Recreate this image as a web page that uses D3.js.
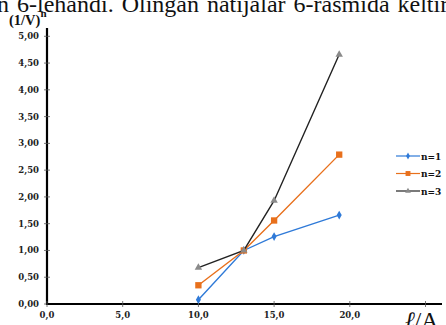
<!doctype html>
<html>
<head>
    <script src="https://d3js.org/d3.v7.min.js"></script>
    <style>
        body { margin: 0; background: #fff; }
        svg { display: block; }
        .tick-label { font: bold 8.5px "DejaVu Serif", serif; fill: #222; }
        .legend text { font: bold 9px "DejaVu Serif", serif; fill: #111; }
    </style>
</head>
<body>
<script>
    // data
    let xValues = [10, 13, 15, 19.3];
    let n1 = [0.08, 1.0, 1.26, 1.66];
    let n2 = [0.35, 1.0, 1.56, 2.79];
    let n3 = [0.68, 1.0, 1.93, 4.66];
    let seriesNames = ["n=1", "n=2", "n=3"];
    let yTicks = [0, 0.5, 1, 1.5, 2, 2.5, 3, 3.5, 4, 4.5, 5];
    let xTicks = [0, 5, 10, 15, 20, 25];

    let width = 446, height = 325;

    let x = d3.scaleLinear().domain([0, 25]).range([47, 425.5]);
    let y = d3.scaleLinear().domain([0, 5]).range([304, 36.3]);

    let svg = d3.select("body").append("svg")
                .attr("width", width)
                .attr("height", height);

    // cropped line of text from the surrounding document
    svg.append("text")
       .attr("x", -3).attr("y", 12)
       .style("font", "24px 'Liberation Serif', serif")
       .style("word-spacing", "2px")
       .attr("fill", "#111")
       .text("n 6-lehandi. Olingan natijalar 6-rasmida keltirilgan");

    // y axis
    svg.append("line")
       .attr("x1", x(0)).attr("x2", x(0))
       .attr("y1", 28).attr("y2", y(0) + 1)
       .attr("stroke", "#000").attr("stroke-width", 2.2);

    svg.selectAll(".ytick").data(yTicks).enter().append("line")
       .attr("x1", x(0) - 3).attr("x2", x(0) + 3)
       .attr("y1", d => y(d)).attr("y2", d => y(d))
       .attr("stroke", "#555").attr("stroke-width", 0.8);

    svg.selectAll(".ylab").data(yTicks).enter().append("text")
       .attr("class", "tick-label")
       .attr("x", 39).attr("y", d => y(d) + 3)
       .attr("text-anchor", "end")
       .text(d => d3.format(".2f")(d).replace(".", ","));

    // x axis
    svg.append("line")
       .attr("x1", x(0) - 1).attr("x2", 442)
       .attr("y1", y(0)).attr("y2", y(0))
       .attr("stroke", "#000").attr("stroke-width", 2.2);

    svg.selectAll(".xtick").data(xTicks).enter().append("line")
       .attr("x1", d => x(d)).attr("x2", d => x(d))
       .attr("y1", y(0) - 3).attr("y2", y(0) + 3)
       .attr("stroke", "#555").attr("stroke-width", 0.8);

    svg.selectAll(".xlab").data(xTicks.slice(0, 5)).enter().append("text")
       .attr("class", "tick-label")
       .attr("x", d => x(d)).attr("y", 318)
       .attr("text-anchor", "middle")
       .text(d => d3.format(".1f")(d).replace(".", ","));

    // axis titles
    let yt = svg.append("text")
       .attr("x", 9).attr("y", 25)
       .style("font", "bold 14.5px 'Liberation Serif', serif")
       .attr("fill", "#111");
    yt.append("tspan").text("(1/V)");
    yt.append("tspan").attr("dy", -8).style("font-size", "11px").text("n");

    let xt = svg.append("text")
       .attr("x", 405).attr("y", 328)
       .style("font", "23.5px 'Liberation Serif', serif")
       .attr("fill", "#111");
    xt.append("tspan").style("font-style", "italic").text("ℓ");
    xt.append("tspan").text("/A");

    // series
    let series = [
        {name: seriesNames[0], values: n1, color: "#2f7ad8", marker: d3.symbolDiamond, size: 22},
        {name: seriesNames[1], values: n2, color: "#e8701c", marker: d3.symbolSquare, size: 40},
        {name: seriesNames[2], values: n3, color: "#222", marker: d3.symbolTriangle, size: 24}
    ];

    let line = d3.line()
                 .x((d, i) => x(xValues[i]))
                 .y(d => y(d));

    series.forEach(s => {
        svg.append("path")
           .attr("d", line(s.values))
           .attr("fill", "none")
           .attr("stroke", s.color)
           .attr("stroke-width", 1.4);

        svg.selectAll(null).data(s.values).enter().append("path")
           .attr("d", d3.symbol().type(s.marker).size(s.size))
           .attr("transform", (d, i) => "translate(" + x(xValues[i]) + "," + y(d) + ")")
           .attr("fill", s.marker === d3.symbolTriangle ? "#8a8a8a" : s.color);
    });

    // legend
    let legend = svg.append("g").attr("class", "legend");
    let ly = [156, 173.5, 191];
    series.forEach((s, i) => {
        let g = legend.append("g").attr("transform", "translate(396," + ly[i] + ")");
        g.append("line").attr("x1", 0).attr("x2", 24)
         .attr("stroke", s.color).attr("stroke-width", 1.2);
        g.append("path")
         .attr("d", d3.symbol().type(s.marker).size(s.size * 0.6))
         .attr("transform", "translate(12,0)")
         .attr("fill", s.marker === d3.symbolTriangle ? "#8a8a8a" : s.color);
        g.append("text").attr("x", 25).attr("y", 3.5).text(s.name);
    });
</script>
</body>
</html>
